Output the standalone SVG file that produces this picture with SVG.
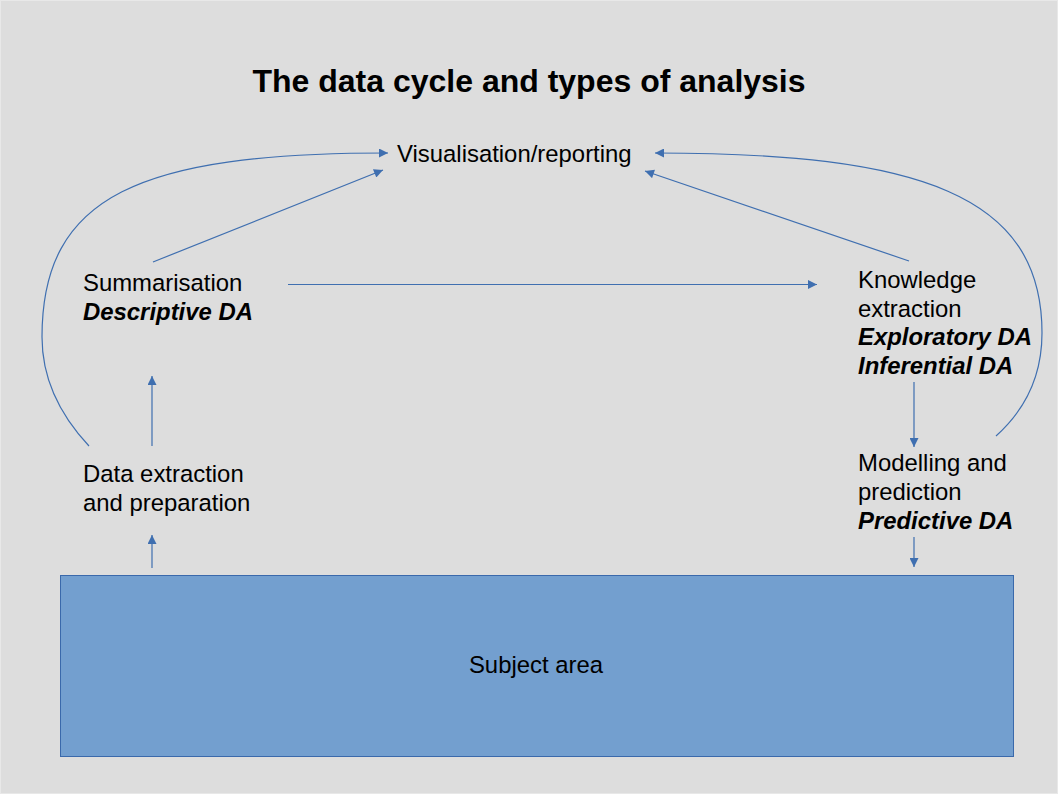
<svg xmlns="http://www.w3.org/2000/svg" width="1058" height="794" viewBox="0 0 1058 794">
<defs>
<style>
text{font-family:"Liberation Sans",Arial,sans-serif;font-size:23.9px;fill:#000}
.b{font-weight:bold;font-style:italic}
.title{font-weight:bold;font-size:32px}
.c{fill:none;stroke:#3f6fb0;stroke-width:1.2}
</style>
<marker id="ah" viewBox="0 0 10 10" refX="10" refY="5" markerWidth="11" markerHeight="9" markerUnits="userSpaceOnUse" orient="auto">
<path d="M0,0 L10,5 L0,10 Z" fill="#3f6fb0"/>
</marker>
</defs>
<rect x="0" y="0" width="1058" height="794" fill="#dddddd"/>
<rect x="0.5" y="0.5" width="1057" height="793" fill="none" stroke="#e8e8e8" stroke-width="1"/>
<text class="title" x="529" y="92" text-anchor="middle">The data cycle and types of analysis</text>
<g id="visualisation"><text x="397" y="162">Visualisation/reporting</text></g>
<g id="summarisation"><text x="83" y="291">Summarisation</text><text class="b" x="83" y="320">Descriptive DA</text></g>
<g id="knowledge"><text x="858" y="288">Knowledge</text><text x="858" y="317">extraction</text><text class="b" x="858" y="345">Exploratory DA</text><text class="b" x="858" y="374">Inferential DA</text></g>
<g id="dataextraction"><text x="83" y="482">Data extraction</text><text x="83" y="511">and preparation</text></g>
<g id="modelling"><text x="858" y="471">Modelling and</text><text x="858" y="500">prediction</text><text class="b" x="858" y="529">Predictive DA</text></g>
<g id="subject"><rect x="60.5" y="575.5" width="953" height="181" fill="#739fcf" stroke="#3a69ab" stroke-width="1"/><text x="536" y="673" text-anchor="middle">Subject area</text></g>
<g id="connectors">
<path class="c" d="M89,446 C60,415 42,380 42,337 C42,195 140,153 388,153" marker-end="url(#ah)"/>
<path class="c" d="M996,436 C1025,410 1042,375 1042,333 C1042,195 920,153 655,153" marker-end="url(#ah)"/>
<path class="c" d="M153,262 L383,170" marker-end="url(#ah)"/>
<path class="c" d="M909,261 L645,171" marker-end="url(#ah)"/>
<path class="c" d="M288,284.5 L817,284.5" marker-end="url(#ah)"/>
<path class="c" d="M152,446 L152,376" marker-end="url(#ah)"/>
<path class="c" d="M152,568 L152,535" marker-end="url(#ah)"/>
<path class="c" d="M914,382 L914,447" marker-end="url(#ah)"/>
<path class="c" d="M914,537 L914,567" marker-end="url(#ah)"/>
</g>
</svg>
